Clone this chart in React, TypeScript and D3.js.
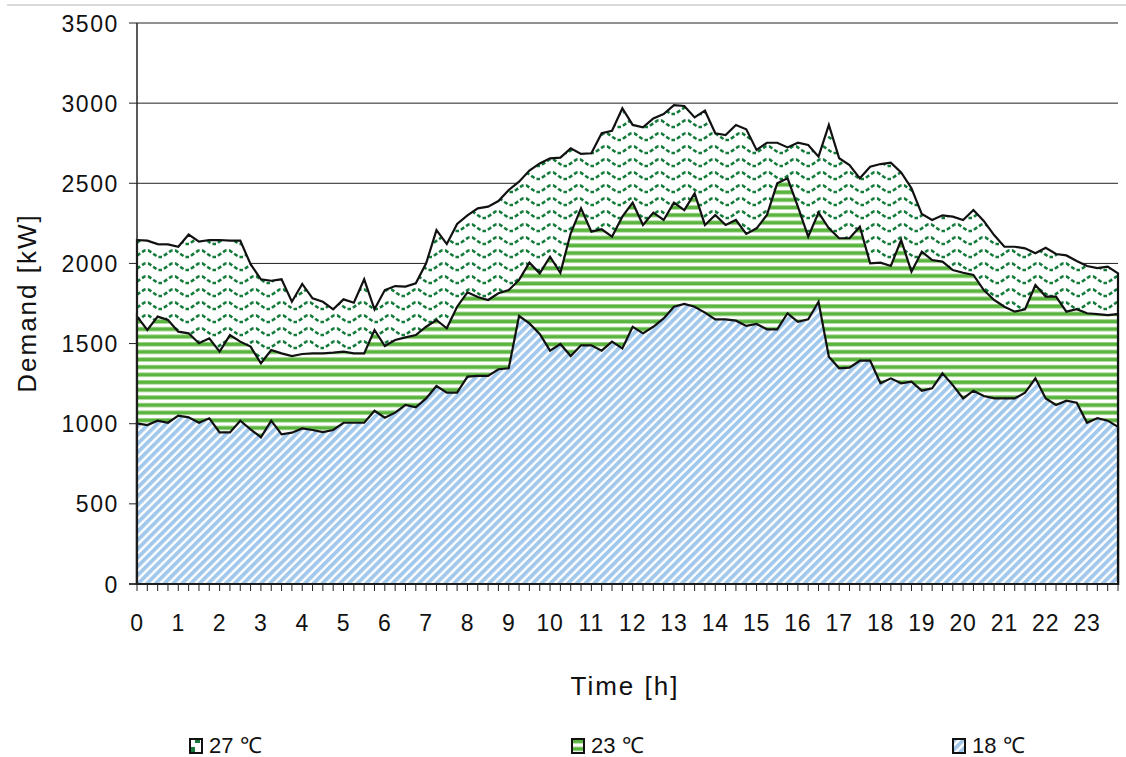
import React from "react";
import * as d3 from "d3";

const hours = d3.range(24).map((h) => String(h));

const t27 = [
  2146, 2142, 2121, 2119, 2104, 2180, 2136, 2146, 2146, 2142, 2142, 1995, 1901, 1892, 1901, 1761,
  1872, 1782, 1761, 1714, 1776, 1755, 1901, 1714, 1834, 1859, 1855, 1876, 2001, 2208, 2121, 2246,
  2300, 2344, 2354, 2389, 2458, 2510, 2579, 2624, 2656, 2660, 2718, 2683, 2687, 2812, 2828, 2968,
  2864, 2849, 2905, 2932, 2988, 2982, 2911, 2953, 2812, 2801, 2864, 2837, 2708, 2753, 2753, 2724,
  2753, 2739, 2666, 2864, 2656, 2614, 2531, 2603, 2620, 2628, 2568, 2469, 2308, 2271, 2300, 2292,
  2271, 2333, 2265, 2177, 2104, 2104, 2094, 2063, 2098, 2059, 2050, 2015, 1984, 1971, 1980, 1938,
];

const t23 = [
  1670, 1585, 1668, 1647, 1574, 1564, 1502, 1533, 1450, 1553, 1512, 1481, 1377, 1460, 1439, 1422,
  1435, 1439, 1439, 1443, 1450, 1439, 1439, 1585, 1485, 1522, 1539, 1553, 1605, 1647, 1595, 1730,
  1820, 1790, 1772, 1814, 1834, 1897, 2005, 1938, 2042, 1942, 2188, 2344, 2198, 2213, 2167, 2292,
  2379, 2240, 2317, 2271, 2379, 2333, 2437, 2240, 2302, 2240, 2271, 2184, 2219, 2302, 2500, 2531,
  2354, 2167, 2317, 2219, 2157, 2157, 2229, 2001, 2005, 1984, 2146, 1948, 2073, 2021, 2011, 1959,
  1942, 1928, 1834, 1772, 1730, 1699, 1714, 1865, 1793, 1793, 1699, 1714, 1689, 1684, 1678, 1684,
];

const t18 = [
  1002, 992, 1019, 1006, 1050, 1040, 1006, 1034, 946, 946, 1019, 965, 915, 1019, 934, 944,
  971, 961, 948, 961, 1006, 1006, 1006, 1081, 1038, 1069, 1117, 1102, 1158, 1235, 1194, 1194,
  1294, 1298, 1298, 1340, 1346, 1672, 1626, 1560, 1456, 1497, 1422, 1489, 1489, 1456, 1512, 1470,
  1605, 1564, 1605, 1657, 1730, 1747, 1730, 1693, 1651, 1651, 1643, 1610, 1622, 1589, 1589, 1689,
  1636, 1651, 1761, 1418, 1346, 1350, 1393, 1393, 1252, 1283, 1252, 1262, 1206, 1221, 1314, 1241,
  1158, 1206, 1173, 1158, 1158, 1158, 1194, 1283, 1158, 1117, 1144, 1131, 1006, 1034, 1019, 981,
];

const yTicks = [0, 500, 1000, 1500, 2000, 2500, 3000, 3500];
const seriesNames = ["27 ℃", "23 ℃", "18 ℃"];

const FONT = "'Liberation Sans', Arial, Helvetica, sans-serif";

export default function App() {
  const W = 1126;
  const H = 757;
  const x = d3.scaleLinear().domain([0, 95]).range([137, 1118]);
  const y = d3.scaleLinear().domain([0, 3500]).range([584, 23]);

  const area = d3
    .area<number>()
    .x((_, i) => x(i))
    .y0(y(0))
    .y1((d) => y(d));

  const series = [
    { name: seriesNames[0], data: t27, fill: "url(#pZig)" },
    { name: seriesNames[1], data: t23, fill: "url(#pHor)" },
    { name: seriesNames[2], data: t18, fill: "url(#pDiag)" },
  ];

  const idx = d3.range(96);
  const legendX = [190, 572, 953];

  return (
    <svg
      width={W}
      height={H}
      style={{ position: "absolute", left: 0, top: 0, background: "#fff" }}
      fontFamily={FONT}
    >
      <defs>
        <pattern id="pZig" patternUnits="userSpaceOnUse" width={27} height={13}>
          <rect width={27} height={13} fill="#fff" />
          <path
            d="M-4,10 L0,10 L9.5,3.5 L13.5,3.5 L23,10 L27,10 L31,10"
            fill="none"
            stroke="#147b3b"
            strokeWidth={2.6}
            strokeDasharray="4 2.3"
          />
        </pattern>
        <pattern id="pHor" patternUnits="userSpaceOnUse" width={10} height={7.6}>
          <rect width={10} height={7.6} fill="#fff" />
          <rect y={0} width={10} height={4.6} fill="#b0dc98" />
          <rect y={0.7} width={10} height={3.2} fill="#5ab540" />
        </pattern>
        <pattern
          id="pDiag"
          patternUnits="userSpaceOnUse"
          width={6.2}
          height={6.2}
          patternTransform="rotate(45)"
        >
          <rect width={6.2} height={6.2} fill="#fff" />
          <rect width={3.8} height={6.2} fill="#a2c8ec" />
        </pattern>
        <pattern id="lZig" patternUnits="userSpaceOnUse" width={14} height={14}>
          <rect width={14} height={14} fill="#fff" />
          <rect x={0} y={8} width={5} height={6} fill="#147b3b" />
          <rect x={5} y={0} width={5} height={4} fill="#147b3b" />
        </pattern>
      </defs>

      <line x1={7} x2={1126} y1={5} y2={5} stroke="#d9d9d9" strokeWidth={2} />

      {/* gridlines */}
      {yTicks.map((t) => (
        <line key={t} x1={129} x2={1118} y1={y(t)} y2={y(t)} stroke="#222" strokeWidth={1} />
      ))}

      {/* areas */}
      {series.map((s) => (
        <path
          key={s.name}
          d={area(s.data) || ""}
          fill={s.fill}
          stroke="#111"
          strokeWidth={2.2}
          strokeLinejoin="miter"
        />
      ))}

      {/* axes */}
      <line x1={137} x2={137} y1={23} y2={584} stroke="#222" strokeWidth={1.5} />
      <line x1={129} x2={1118} y1={584} y2={584} stroke="#222" strokeWidth={1.5} />
      {idx.map((i) => (
        <line key={i} x1={x(i)} x2={x(i)} y1={584} y2={591} stroke="#222" strokeWidth={1} />
      ))}

      {yTicks.map((t) => (
        <text
          key={t}
          x={119}
          y={y(t) + 8.5}
          textAnchor="end"
          fontSize={23}
          letterSpacing={1.6}
          fill="#111"
        >
          {t}
        </text>
      ))}
      {hours.map((h, k) => (
        <text
          key={h}
          x={x(k * 4)}
          y={631}
          textAnchor="middle"
          fontSize={23}
          letterSpacing={0.8}
          fill="#111"
        >
          {h}
        </text>
      ))}

      <text x={625} y={695} textAnchor="middle" fontSize={26} letterSpacing={2} fill="#111">
        Time [h]
      </text>
      <text
        transform={`translate(36,303) rotate(-90)`}
        textAnchor="middle"
        fontSize={26}
        letterSpacing={2}
        fill="#111"
      >
        Demand [kW]
      </text>

      {/* legend */}
      {series.map((s, k) => (
        <g key={s.name} transform={`translate(${legendX[k]},739)`}>
          <rect
            x={0}
            y={0}
            width={12}
            height={14}
            fill={k === 0 ? "url(#lZig)" : s.fill}
            stroke="#111"
            strokeWidth={2}
          />
          <text x={19} y={14} fontSize={22} fill="#111">
            {s.name}
          </text>
        </g>
      ))}
    </svg>
  );
}
